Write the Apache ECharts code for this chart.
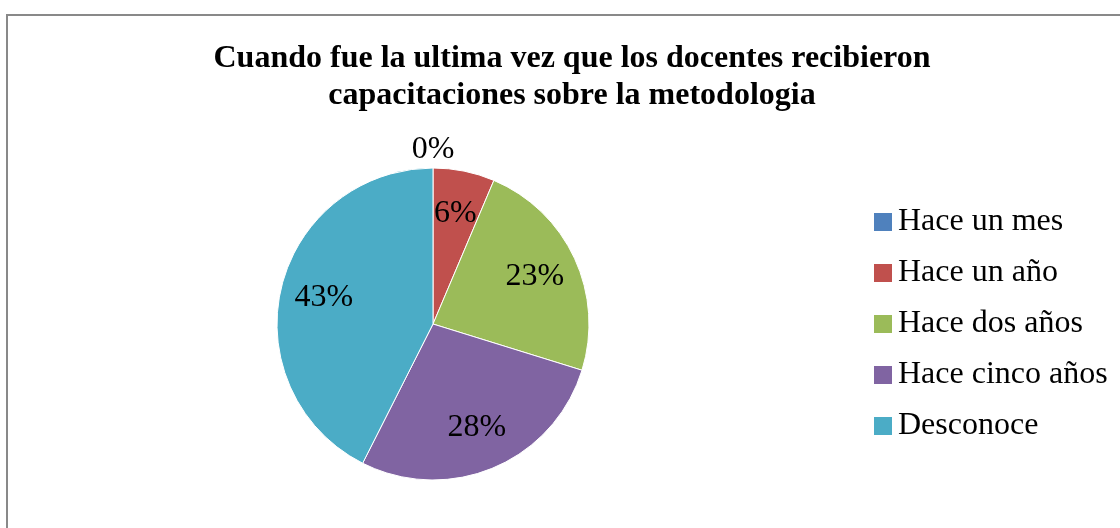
<!DOCTYPE html>
<html>
<head>
<meta charset="utf-8">
<script src="https://cdn.jsdelivr.net/npm/echarts@6/dist/echarts.min.js"></script>
<style>
  html, body { margin: 0; padding: 0; background: #fff; }
  #chart { width: 1120px; height: 528px; }
</style>
</head>
<body>
<div id="chart"></div>
<script>
const categories = ["Hace un mes", "Hace un año", "Hace dos años", "Hace cinco años", "Desconoce"];
const values = [0, 3, 11, 13, 20];
const colors = ["#4F81BD", "#C0504D", "#9BBB59", "#8064A2", "#4BACC6"];

const serif = "'Liberation Serif', 'Times New Roman', serif";
const center = [433, 324];
const R = 156;

const total = values.reduce((a, b) => a + b, 0);
const pctLabel = p => Math.round(p.value / total * 100) + "%";

const chart = echarts.init(document.getElementById("chart"));

chart.setOption({
  animation: false,
  title: {
    text: "Cuando fue la ultima vez que los docentes recibieron\ncapacitaciones sobre la metodologia",
    left: 567,
    top: 35,
    textAlign: "center",
    textStyle: {
      fontFamily: serif,
      fontSize: 32,
      fontWeight: "bold",
      lineHeight: 37,
      color: "#000"
    }
  },
  legend: {
    orient: "vertical",
    left: 867,
    top: 201,
    itemWidth: 20,
    itemHeight: 20,
    itemGap: 19,
    icon: "rect",
    data: categories.map((c, i) => ({ name: c, itemStyle: { color: colors[i] } })),
    textStyle: {
      fontFamily: serif,
      fontSize: 32,
      color: "#000"
    }
  },
  graphic: [{
    type: "rect",
    shape: { x: 7, y: 15, width: 1200, height: 600 },
    style: { fill: "none", stroke: "#898989", lineWidth: 2 },
    silent: true
  }],
  series: [
    {
      type: "pie",
      center: center,
      radius: R,
      startAngle: 90,
      clockwise: true,
      label: { show: false },
      labelLine: { show: false },
      itemStyle: { borderColor: "#fff", borderWidth: 1 },
      emphasis: { disabled: true },
      data: categories.map((c, i) => ({ name: c, value: values[i], itemStyle: { color: colors[i] } }))
    },
    {
      // inside labels, placed at ~0.7 of the radius
      type: "pie",
      center: center,
      radius: [R * 0.4, R],
      startAngle: 90,
      silent: true,
      itemStyle: { color: "transparent" },
      emphasis: { disabled: true },
      labelLine: { show: false },
      label: {
        show: true,
        position: "inside",
        formatter: pctLabel,
        fontFamily: serif,
        fontSize: 32,
        color: "#000"
      },
      data: categories.map((c, i) => ({
        name: c, value: values[i],
        label: { show: values[i] > 0 }
      }))
    },
    {
      // label for the zero slice, outside above the pie
      type: "pie",
      center: center,
      radius: [R, R + 30],
      startAngle: 90,
      silent: true,
      itemStyle: { color: "transparent" },
      emphasis: { disabled: true },
      labelLine: { show: false },
      label: {
        show: true,
        position: "inside",
        formatter: pctLabel,
        fontFamily: serif,
        fontSize: 32,
        color: "#000"
      },
      data: categories.map((c, i) => ({
        name: c, value: values[i],
        label: { show: values[i] === 0 }
      }))
    }
  ]
});
</script>
</body>
</html>
